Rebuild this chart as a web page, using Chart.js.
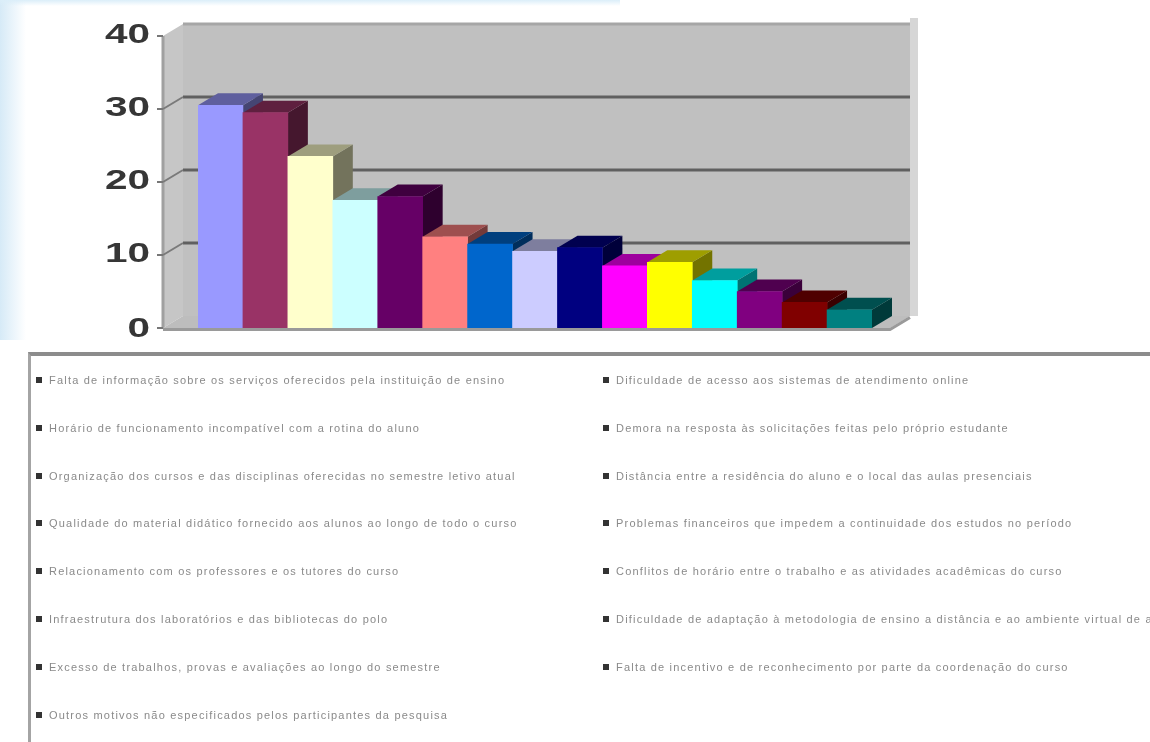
<!DOCTYPE html>
<html>
<head>
<meta charset="utf-8">
<script src="https://cdn.jsdelivr.net/npm/chart.js@4.4.1/dist/chart.umd.min.js"></script>
<style>
  html, body { margin: 0; padding: 0; background: #ffffff; width: 1150px; height: 742px; overflow: hidden; }
  #wrap { position: relative; width: 1150px; height: 742px; }
  #c { position: absolute; left: 0; top: 0; }
  #haze { position: absolute; left: 0; top: 0; width: 26px; height: 340px;
          background: linear-gradient(to right, #d6eaf7, rgba(255,255,255,0)); }
  #haze2 { position: absolute; left: 0; top: 0; width: 620px; height: 6px;
          background: linear-gradient(to bottom, #dbeef9, rgba(255,255,255,0)); }
  #legend { position: absolute; left: 28px; top: 352px; width: 1130px; height: 400px;
            border-top: 4px solid #8c8c8c; border-left: 3px solid #a4a4a4; box-sizing: border-box; }
  .item { position: absolute; height: 12px; line-height: 12px; white-space: nowrap;
          font-family: "Liberation Sans", Arial, sans-serif; font-size: 11px; letter-spacing: 1.2px; color: #8a8a8a; }
  .mk { display: inline-block; width: 6px; height: 6px; background: #333333; margin-right: 7px; vertical-align: 1px; }
</style>
</head>
<body>
<div id="wrap">
  <div id="haze"></div>
  <div id="haze2"></div>
  <canvas id="c" width="1150" height="742"></canvas>
  <div id="legend"></div>
</div>
<script>
// ---- data ----
const categories = [
  "Falta de informação sobre os serviços oferecidos pela instituição de ensino",
  "Dificuldade de acesso aos sistemas de atendimento online",
  "Horário de funcionamento incompatível com a rotina do aluno",
  "Demora na resposta às solicitações feitas pelo próprio estudante",
  "Organização dos cursos e das disciplinas oferecidas no semestre letivo atual",
  "Distância entre a residência do aluno e o local das aulas presenciais",
  "Qualidade do material didático fornecido aos alunos ao longo de todo o curso",
  "Problemas financeiros que impedem a continuidade dos estudos no período",
  "Relacionamento com os professores e os tutores do curso",
  "Conflitos de horário entre o trabalho e as atividades acadêmicas do curso",
  "Infraestrutura dos laboratórios e das bibliotecas do polo",
  "Dificuldade de adaptação à metodologia de ensino a distância e ao ambiente virtual de aprendizagem",
  "Excesso de trabalhos, provas e avaliações ao longo do semestre",
  "Falta de incentivo e de reconhecimento por parte da coordenação do curso",
  "Outros motivos não especificados pelos participantes da pesquisa"
];
const values = [30.5, 29.5, 23.5, 17.5, 18, 12.5, 11.5, 10.5, 11, 8.5, 9, 6.5, 5, 3.5, 2.5];
const colors = ["#9999FF","#993366","#FFFFCC","#CCFFFF","#660066","#FF8080","#0066CC","#CCCCFF",
                "#000080","#FF00FF","#FFFF00","#00FFFF","#800080","#800000","#008080"];
const yTicks = [0, 10, 20, 30, 40];
const yMin = 0, yMax = 40;

// ---- helpers ----
function shade(hex, f) {
  const n = parseInt(hex.slice(1), 16);
  const r = Math.round(((n >> 16) & 255) * f), g = Math.round(((n >> 8) & 255) * f), b = Math.round((n & 255) * f);
  return `rgb(${r},${g},${b})`;
}
function poly(ctx, pts, fill, stroke, lw) {
  ctx.beginPath();
  ctx.moveTo(pts[0][0], pts[0][1]);
  for (let i = 1; i < pts.length; i++) ctx.lineTo(pts[i][0], pts[i][1]);
  ctx.closePath();
  if (fill) { ctx.fillStyle = fill; ctx.fill(); }
  if (stroke) { ctx.strokeStyle = stroke; ctx.lineWidth = lw || 1; ctx.stroke(); }
}

const DX = 20, DY = 12;
const PAD_L = 35, PAD_R = 18;

const threeD = {
  id: "threeD",
  beforeDatasetsDraw(chart) {
    const { ctx, chartArea: a, scales: { y } } = chart;
    const L = a.left - PAD_L, R = a.right + PAD_R;
    const base = y.getPixelForValue(yMin), top = y.getPixelForValue(yMax);
    ctx.save();
    // back wall
    ctx.fillStyle = "#c0c0c0";
    ctx.fillRect(L + DX, top - DY, R - L, base - top);
    ctx.fillStyle = "#d6d6d6";
    ctx.fillRect(R + DX, top - DY - 6, 8, base - top + 6);
    ctx.strokeStyle = "#a6a6a6"; ctx.lineWidth = 3;
    ctx.beginPath(); ctx.moveTo(L + DX, top - DY); ctx.lineTo(R + DX, top - DY); ctx.stroke();
    // left side wall
    poly(ctx, [[L, top], [L + DX, top - DY], [L + DX, base - DY], [L, base]], "#c6c6c6", null);
    ctx.strokeStyle = "#a0a0a0"; ctx.lineWidth = 3;
    ctx.beginPath(); ctx.moveTo(L, top); ctx.lineTo(L, base); ctx.stroke();
    // floor
    poly(ctx, [[L, base], [L + DX, base - DY], [R + DX, base - DY], [R, base]], "#bdbdbd", null);
    // gridlines
    yTicks.forEach(v => {
      const p = y.getPixelForValue(v);
      ctx.strokeStyle = "#606060"; ctx.lineWidth = 3;
      if (v > yMin && v < yMax) {
        ctx.beginPath(); ctx.moveTo(L + DX, p - DY); ctx.lineTo(R + DX, p - DY); ctx.stroke();
        ctx.strokeStyle = "#7a7a7a"; ctx.lineWidth = 2;
        ctx.beginPath(); ctx.moveTo(L, p); ctx.lineTo(L + DX, p - DY); ctx.stroke();
      }
      ctx.strokeStyle = "#777777"; ctx.lineWidth = 2;
      ctx.beginPath(); ctx.moveTo(L - 6, p); ctx.lineTo(L, p); ctx.stroke();
    });
    // bar top and side faces
    const meta = chart.getDatasetMeta(0);
    meta.data.forEach((bar, i) => {
      const x1 = bar.x - bar.width / 2, x2 = bar.x + bar.width / 2, t = bar.y, b = bar.base;
      const c = colors[i];
      poly(ctx, [[x2, t], [x2 + DX, t - DY], [x2 + DX, b - DY], [x2, b]], shade(c, 0.45), null);
      poly(ctx, [[x1, t], [x1 + DX, t - DY], [x2 + DX, t - DY], [x2, t]], shade(c, 0.62), null);
    });
    ctx.restore();
  },
  afterDatasetsDraw(chart) {
    const { ctx, chartArea: a, scales: { y } } = chart;
    const L = a.left - PAD_L, R = a.right + PAD_R;
    const base = y.getPixelForValue(yMin);
    ctx.save();
    ctx.strokeStyle = "#9a9a9a"; ctx.lineWidth = 3;
    ctx.beginPath(); ctx.moveTo(L, base + 1.5); ctx.lineTo(R, base + 1.5); ctx.lineTo(R + DX, base - DY + 1.5); ctx.stroke();
    // y tick labels (wide, like the stretched original)
    ctx.fillStyle = "#363636";
    ctx.font = "bold 27px 'Liberation Sans', Arial, sans-serif";
    ctx.textAlign = "right"; ctx.textBaseline = "middle";
    yTicks.forEach(v => {
      const p = y.getPixelForValue(v);
      ctx.save();
      ctx.translate(L - 13, p + (v === yMin ? 2 : 0));
      ctx.scale(1.5, 1);
      ctx.fillText(String(v), 0, 0);
      ctx.restore();
    });
    ctx.restore();
  }
};

new Chart(document.getElementById("c"), {
  type: "bar",
  data: {
    labels: categories,
    datasets: [{ data: values, backgroundColor: colors, borderWidth: 0,
                 categoryPercentage: 1.0, barPercentage: 1.0 }]
  },
  options: {
    responsive: false,
    animation: false,
    layout: { padding: { left: 198, right: 278, top: 36, bottom: 414 } },
    plugins: { legend: { display: false }, tooltip: { enabled: false }, title: { display: false } },
    scales: {
      x: { display: false },
      y: { display: false, min: yMin, max: yMax }
    }
  },
  plugins: [threeD]
});

// ---- legend (HTML, two columns, row-major) ----
const legend = document.getElementById("legend");
const rowY = 380, rowStep = 47.8;
categories.forEach((name, i) => {
  const col = i % 2, row = Math.floor(i / 2);
  const d = document.createElement("div");
  d.className = "item";
  d.style.left = (col === 0 ? 5 : 572) + "px";
  d.style.top = (rowY + row * rowStep - 352 - 4 - 6) + "px";
  const m = document.createElement("span"); m.className = "mk";
  d.appendChild(m);
  d.appendChild(document.createTextNode(name));
  legend.appendChild(d);
});
</script>
</body>
</html>
